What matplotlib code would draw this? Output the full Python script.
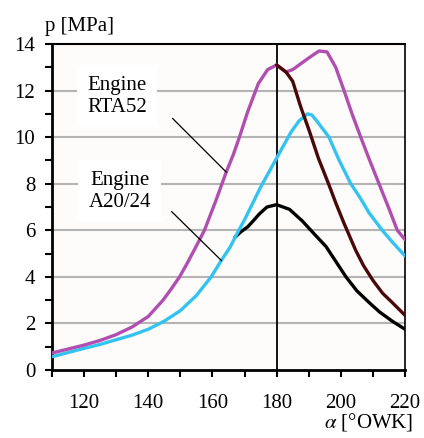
import matplotlib
matplotlib.use("Agg")
import matplotlib.pyplot as plt
from matplotlib.ticker import MultipleLocator

plt.rcParams['font.family'] = ['Liberation Serif', 'DejaVu Serif']
plt.rcParams['mathtext.fontset'] = 'stix'

# RTA52 fired (magenta)
rta_fired_x = [110, 115, 120, 125, 130, 135, 140, 144.6, 147, 149.75, 152, 154.5,
               157.5, 161, 164.3, 166.5, 168.4, 171, 174.3, 177.2, 180, 182.9, 185, 187, 190,
               193.2, 195.7, 198.4, 201, 203.5, 206.2, 209, 211.9, 214.8, 217.6, 220]
rta_fired_y = [0.73, 0.9, 1.07, 1.27, 1.52, 1.85, 2.3, 3.0, 3.45, 4.0, 4.55, 5.2,
               6.0, 7.25, 8.5, 9.25, 10.0, 11.1, 12.3, 12.9, 13.1, 12.8, 12.9, 13.1, 13.4,
               13.7, 13.66, 13.0, 12.0, 11.0, 10.0, 9.0, 8.0, 7.0, 6.0, 5.6]
# RTA52 motored (brown)
rta_motored_x = [180, 182.9, 185, 187.5, 190.1, 193, 196.3, 198.5, 201, 204.6, 207, 210, 213,
                 216, 220]
rta_motored_y = [13.1, 12.8, 12.4, 11.3, 10.3, 9.1, 7.95, 7.15, 6.3, 5.15, 4.5, 3.85, 3.3,
                 2.9, 2.35]
# A20/24 fired (cyan)
a20_fired_x = [110, 115, 120, 125, 130, 135, 140, 145, 150, 155, 159.6, 162.5, 165.6, 168,
               170, 175, 180, 184.4, 187, 189.6, 191, 192.7, 196.3, 199.5, 203.1, 206, 208.8,
               212.9, 216, 220]
a20_fired_y = [0.57, 0.75, 0.93, 1.1, 1.3, 1.5, 1.75, 2.1, 2.55, 3.2, 4.0, 4.65, 5.3, 5.95,
               6.45, 7.85, 9.1, 10.2, 10.7, 11.0, 10.95, 10.66, 10.0, 9.0, 8.0, 7.4, 6.75,
               6.0, 5.5, 4.9]
# A20/24 motored (black)
a20_motored_x = [167, 169, 171, 173, 174.6, 177, 180, 184, 188, 192, 195.4, 198.5, 201.6, 205,
                 208.8, 212, 216, 220]
a20_motored_y = [5.7, 5.95, 6.15, 6.45, 6.7, 7.0, 7.1, 6.9, 6.4, 5.8, 5.3, 4.65, 4.0, 3.4,
                 2.9, 2.5, 2.1, 1.75]

x_ticks = [120, 140, 160, 180, 200, 220]
y_ticks = [0, 2, 4, 6, 8, 10, 12, 14]

fig = plt.figure(figsize=(4.24, 4.38), dpi=100)
ax = fig.add_axes([52/424, 1 - 370/438, (405-52)/424, (370-44)/438])
ax.set_facecolor('#fdfcfb')

ax.set_xlim(110, 220)
ax.set_ylim(0, 14)
ax.set_xticks(x_ticks)
ax.set_yticks(y_ticks)
ax.xaxis.set_minor_locator(MultipleLocator(10))
ax.yaxis.set_minor_locator(MultipleLocator(1))
ax.tick_params(axis='both', which='both', direction='out', length=5, width=1.5, labelsize=15)
ax.tick_params(axis='x', which='major', pad=12)
ax.tick_params(axis='y', which='major', pad=7)
for y in y_ticks[1:-1]:
    ax.axhline(y, color='#b4b4b4', lw=1.5, zorder=0.5)
ax.axvline(180, color='black', lw=1.3, zorder=1)

for s in ['left', 'bottom']:
    ax.spines[s].set_linewidth(2)
ax.spines['top'].set_linewidth(1.5)
ax.spines['right'].set_linewidth(1.2)

kw = dict(lw=2.4, solid_joinstyle='round', solid_capstyle='round')
ax.plot(a20_motored_x, a20_motored_y, color='black', zorder=2.5, **kw)
ax.plot(a20_fired_x, a20_fired_y, color='#33c3f0', zorder=3, **kw)
ax.plot(rta_fired_x, rta_fired_y, color='#b04fb0', zorder=3, **kw)
ax.plot(rta_motored_x, rta_motored_y, color='#4a0808', zorder=4, **kw)

# labels with leader lines
ax.plot([147.6, 164.3], [10.8, 8.5], color='black', lw=0.9, zorder=5)
ax.plot([147.3, 162.8], [6.8, 4.7], color='black', lw=0.9, zorder=5)
bb = dict(boxstyle='square,pad=0.5', fc='white', ec='none')
ax.text(130.2, 11.76, 'Engine\nRTA52', ha='center', va='center', fontsize=15,
        linespacing=1.2, bbox=bb, zorder=6)
ax.text(131.1, 7.68, 'Engine\nA20/24', ha='center', va='center', fontsize=15,
        linespacing=1.2, bbox=bb, zorder=6)

fig.text(45/424, 1 - 26/438, 'p [MPa]', ha='left', va='center', fontsize=15)
fig.text(413/424, 1 - 422/438, r'$\alpha$ [°OWK]', ha='right', va='center', fontsize=15)

fig.savefig('out.png', dpi=100)
